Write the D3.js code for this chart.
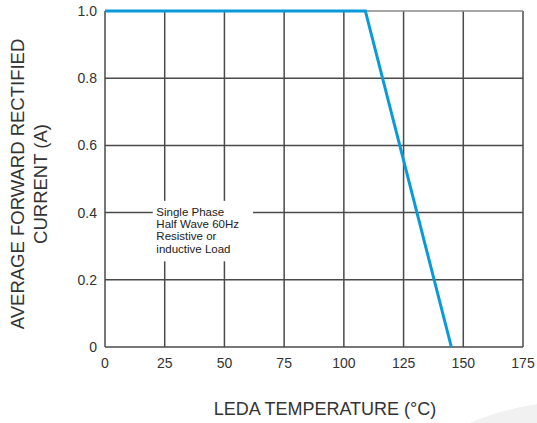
<!DOCTYPE html>
<html>
<head>
<meta charset="utf-8">
<script src="https://cdn.jsdelivr.net/npm/d3@7"></script>
<style>
  body { margin: 0; background: #fff; }
  text { font-family: "Liberation Sans", Arial, sans-serif; fill: #333; }
</style>
</head>
<body>
<script>
// derating curve: current vs lead temperature
var temps = [0, 109, 145];
var currents = [1.0, 1.0, 0];
var xTicks = [0, 25, 50, 75, 100, 125, 150, 175];
var yTicks = [0, 0.2, 0.4, 0.6, 0.8, 1.0];
var noteLines = ["Single Phase", "Half Wave 60Hz", "Resistive or", "inductive Load"];

var margin = {top: 11, right: 14, bottom: 76, left: 105};
var width = 537 - margin.left - margin.right;
var height = 423 - margin.top - margin.bottom;

var xScale = d3.scaleLinear().domain([0, 175]).range([0, width]);
var yScale = d3.scaleLinear().domain([0, 1]).range([height, 0]);

var root = d3.select("body").append("svg")
    .attr("width", 537)
    .attr("height", 423);

// faint watermark swoosh in the corner
root.append("path")
    .attr("d", "M470,423 Q500,410 537,404 L537,423 Z")
    .attr("fill", "#f1f1f1");

var svg = root.append("g")
    .attr("transform", "translate(" + margin.left + "," + margin.top + ")");

// grid lines
svg.selectAll(".vgrid")
    .data(xTicks.slice(1))
    .enter().append("line")
    .attr("x1", function(d) { return xScale(d); })
    .attr("x2", function(d) { return xScale(d); })
    .attr("y1", 0)
    .attr("y2", height)
    .attr("stroke", "#4a4a4a")
    .attr("stroke-width", 1.5);

svg.selectAll(".hgrid")
    .data(yTicks.slice(1))
    .enter().append("line")
    .attr("x1", 0)
    .attr("x2", width)
    .attr("y1", function(d) { return yScale(d); })
    .attr("y2", function(d) { return yScale(d); })
    .attr("stroke", function(d) { return d == 1 ? "#888" : "#4a4a4a"; })
    .attr("stroke-width", 1.5);

// left and bottom axis lines
svg.append("line")
    .attr("x1", 0).attr("x2", 0)
    .attr("y1", 0).attr("y2", height)
    .attr("stroke", "#4a4a4a").attr("stroke-width", 1.5);
svg.append("line")
    .attr("x1", 0).attr("x2", width)
    .attr("y1", height).attr("y2", height)
    .attr("stroke", "#4a4a4a").attr("stroke-width", 1.5);

// white box behind the note
svg.append("rect")
    .attr("x", xScale(20))
    .attr("y", yScale(0.435))
    .attr("width", xScale(62) - xScale(20))
    .attr("height", yScale(0.255) - yScale(0.435))
    .attr("fill", "#fff");

svg.selectAll(".note")
    .data(noteLines)
    .enter().append("text")
    .attr("x", xScale(21.5))
    .attr("y", function(d, i) { return yScale(0.4) + 3 + i * 12.4; })
    .style("font-size", "11.5px")
    .style("fill", "#222")
    .text(function(d) { return d; });

// tick labels
svg.selectAll(".xlab")
    .data(xTicks)
    .enter().append("text")
    .attr("x", function(d) { return xScale(d); })
    .attr("y", height + 21)
    .attr("text-anchor", "middle")
    .style("font-size", "14px")
    .text(function(d) { return d; });

svg.selectAll(".ylab")
    .data(yTicks)
    .enter().append("text")
    .attr("x", -8)
    .attr("y", function(d) { return yScale(d) + 5; })
    .attr("text-anchor", "end")
    .style("font-size", "14px")
    .text(function(d) { return d == 0 ? "0" : d.toFixed(1); });

// derating line
var line = d3.line()
    .x(function(d, i) { return xScale(temps[i]); })
    .y(function(d) { return yScale(d); });

svg.append("path")
    .datum(currents)
    .attr("d", line)
    .attr("fill", "none")
    .attr("stroke", "#0a9ad8")
    .attr("stroke-width", 3)
    .attr("stroke-linejoin", "miter");

// axis titles
svg.append("text")
    .attr("x", 325 - margin.left)
    .attr("y", height + 68)
    .attr("text-anchor", "middle")
    .style("font-size", "18px")
    .text("LEDA TEMPERATURE (\u00B0C)");

svg.append("text")
    .attr("transform", "rotate(-90)")
    .attr("x", -173)
    .attr("y", -81)
    .attr("text-anchor", "middle")
    .style("font-size", "18.5px")
    .text("AVERAGE FORWARD RECTIFIED");

svg.append("text")
    .attr("transform", "rotate(-90)")
    .attr("x", -173)
    .attr("y", -58)
    .attr("text-anchor", "middle")
    .style("font-size", "18.5px")
    .text("CURRENT (A)");
</script>
</body>
</html>
